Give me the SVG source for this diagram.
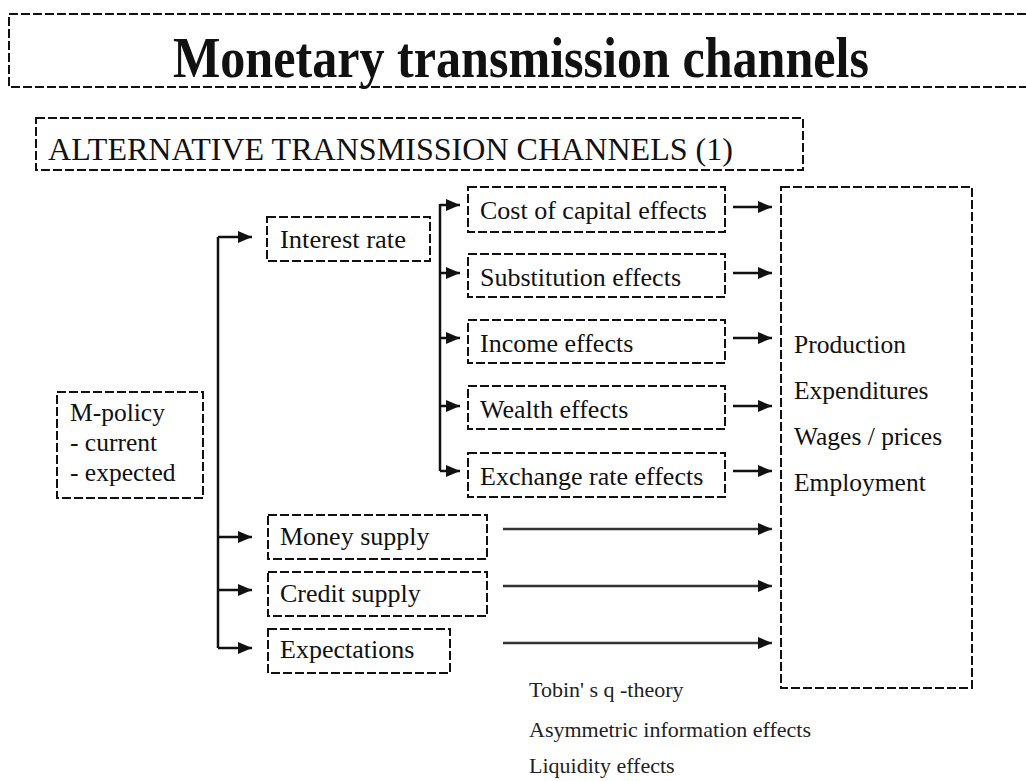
<svg xmlns="http://www.w3.org/2000/svg" width="1026" height="781" viewBox="0 0 1026 781">
<style>
.box{fill:none;stroke:#111;stroke-width:2;stroke-dasharray:9 3}
.t{font-family:"Liberation Serif","Times New Roman",serif;fill:#111}
.lbl{font-size:26px}
.out{font-size:25.5px}
.note{font-size:22px;fill:#222}
.con{fill:none;stroke:#111;stroke-width:2.5}
.long{fill:none;stroke:#333;stroke-width:2.5}
</style>
<defs>
<marker id="ah" markerWidth="14" markerHeight="12" refX="14" refY="6" orient="auto" markerUnits="userSpaceOnUse"><path d="M0,0 L14,6 L0,12 z" fill="#111"/></marker>
</defs>
<rect width="1026" height="781" fill="#fff"/>
<g id="title">
<path class="box" d="M1026,14 H9 V87 H1026"/>
<text class="t" x="173" y="77" font-size="58" font-weight="bold" textLength="696" lengthAdjust="spacingAndGlyphs">Monetary transmission channels</text>
</g>
<g id="subtitle">
<rect class="box" x="36" y="118" width="767" height="52"/>
<text class="t" x="48" y="160" font-size="32" textLength="685" lengthAdjust="spacingAndGlyphs">ALTERNATIVE TRANSMISSION CHANNELS (1)</text>
</g>
<g id="mpolicy">
<rect class="box" x="57" y="392" width="146" height="106"/>
<text class="t out" x="70" y="421">M-policy</text>
<text class="t out" x="70" y="451">- current</text>
<text class="t out" x="70" y="481">- expected</text>
</g>
<g id="interest">
<rect class="box" x="267" y="217" width="163" height="44"/>
<text class="t lbl" x="280" y="248" textLength="126" lengthAdjust="spacingAndGlyphs">Interest rate</text>
</g>
<g id="cost">
<rect class="box" x="468" y="187" width="257" height="45"/>
<text class="t lbl" x="480" y="219" textLength="227" lengthAdjust="spacingAndGlyphs">Cost of capital effects</text>
</g>
<g id="subst">
<rect class="box" x="468" y="254" width="257" height="43"/>
<text class="t lbl" x="480" y="286">Substitution effects</text>
</g>
<g id="income">
<rect class="box" x="468" y="320" width="257" height="43"/>
<text class="t lbl" x="480" y="352">Income effects</text>
</g>
<g id="wealth">
<rect class="box" x="468" y="386" width="257" height="43"/>
<text class="t lbl" x="480" y="418">Wealth effects</text>
</g>
<g id="exchange">
<rect class="box" x="468" y="453" width="257" height="44"/>
<text class="t lbl" x="480" y="485">Exchange rate effects</text>
</g>
<g id="money">
<rect class="box" x="268" y="515" width="219" height="44"/>
<text class="t lbl" x="280" y="545">Money supply</text>
</g>
<g id="credit">
<rect class="box" x="268" y="572" width="219" height="44"/>
<text class="t lbl" x="280" y="602">Credit supply</text>
</g>
<g id="expect">
<rect class="box" x="268" y="629" width="182" height="44"/>
<text class="t lbl" x="280" y="658">Expectations</text>
</g>
<g id="outcome">
<rect class="box" x="781" y="187" width="191" height="501"/>
<text class="t out" x="794" y="353">Production</text>
<text class="t out" x="794" y="399">Expenditures</text>
<text class="t out" x="794" y="445">Wages / prices</text>
<text class="t out" x="794" y="491">Employment</text>
</g>
<g id="notes">
<text class="t note" x="529" y="697">Tobin' s q -theory</text>
<text class="t note" x="529" y="737" textLength="282" lengthAdjust="spacingAndGlyphs">Asymmetric information effects</text>
<text class="t note" x="529" y="773">Liquidity effects</text>
</g>
<g id="connectors">
<path class="con" d="M218,648 V237"/>
<path class="con" d="M218,237 H252" marker-end="url(#ah)"/>
<path class="con" d="M218,537 H252" marker-end="url(#ah)"/>
<path class="con" d="M218,590 H252" marker-end="url(#ah)"/>
<path class="con" d="M218,648 H252" marker-end="url(#ah)"/>
<path class="con" d="M440,471 V204"/>
<path class="con" d="M440,205 H460" marker-end="url(#ah)"/>
<path class="con" d="M440,273 H460" marker-end="url(#ah)"/>
<path class="con" d="M440,338 H460" marker-end="url(#ah)"/>
<path class="con" d="M440,406 H460" marker-end="url(#ah)"/>
<path class="con" d="M440,471 H460" marker-end="url(#ah)"/>
<path class="con" d="M733,207 H772" marker-end="url(#ah)"/>
<path class="con" d="M733,273 H772" marker-end="url(#ah)"/>
<path class="con" d="M733,338 H772" marker-end="url(#ah)"/>
<path class="con" d="M733,406 H772" marker-end="url(#ah)"/>
<path class="con" d="M733,471 H772" marker-end="url(#ah)"/>
<path class="long" d="M503,529 H772" marker-end="url(#ah)"/>
<path class="long" d="M503,586 H772" marker-end="url(#ah)"/>
<path class="long" d="M503,643 H772" marker-end="url(#ah)"/>
</g>
</svg>
